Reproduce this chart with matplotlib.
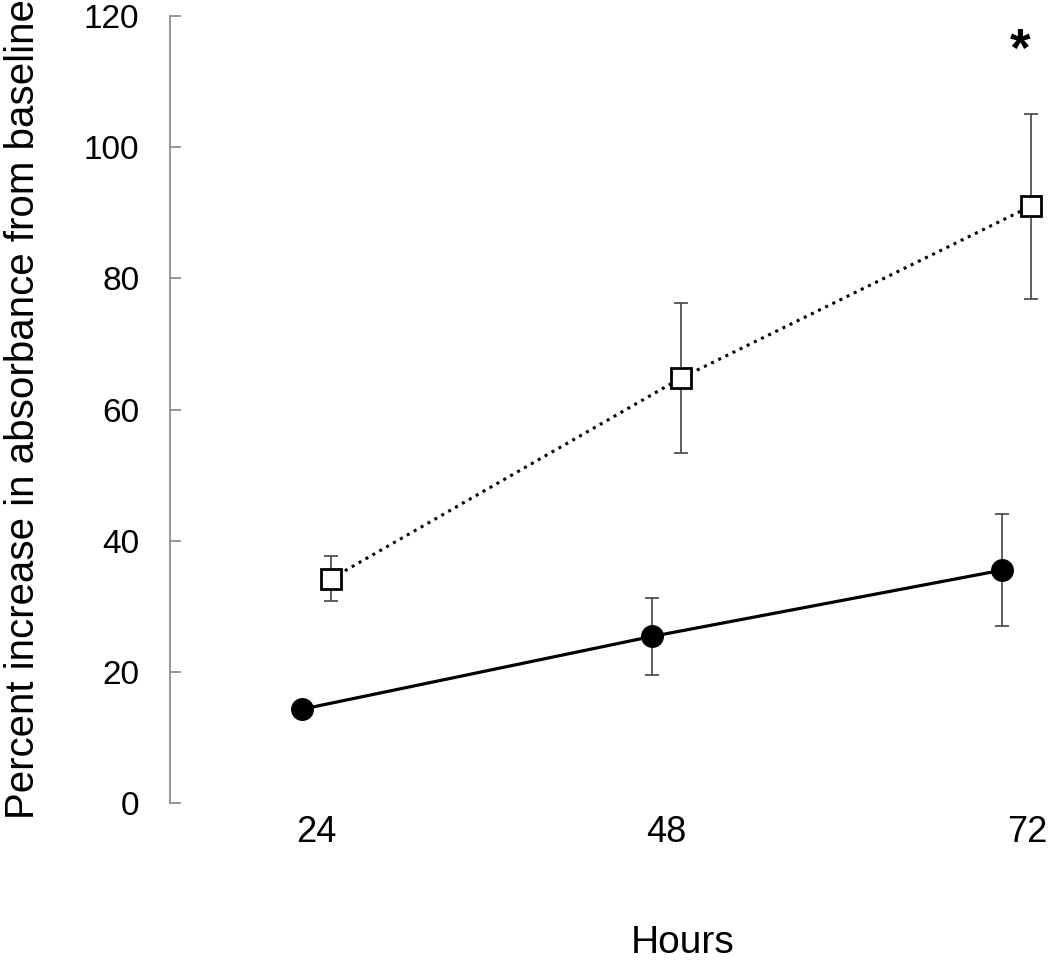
import matplotlib.pyplot as plt
from matplotlib.transforms import ScaledTranslation

plt.rcParams['font.family'] = ['Liberation Sans', 'DejaVu Sans']

hours = ['24', '48', '72']
filled_mean = [14.3, 25.4, 35.5]
filled_err = [1.0, 5.9, 8.5]
open_mean = [34.2, 64.8, 91.0]
open_err = [3.4, 11.5, 14.1]
star_value = 114.5

x = [0, 1, 2]
off = 0.0414
x_filled = [v - off for v in x]
x_open = [v + off for v in x]

fig = plt.figure(figsize=(10.5, 9.6), dpi=100)
ax = fig.add_axes([170 / 1050, 1 - 803 / 960, 1 - 170 / 1050, (803 - 16) / 960])

ecol = '#444444'
# error bars first, markers on top
ax.errorbar(x_filled, filled_mean, yerr=filled_err, fmt='none', ecolor=ecol,
            elinewidth=1.2, capsize=5, capthick=1.2, zorder=2)
ax.errorbar(x_open, open_mean, yerr=open_err, fmt='none', ecolor=ecol,
            elinewidth=1.2, capsize=5, capthick=1.2, zorder=2)

ax.plot(x_filled, filled_mean, color='black', lw=2.3, marker='o', ms=15.5,
        mfc='black', mec='black', zorder=3)
ax.plot(x_open, open_mean, color='black', lw=2.2, ls=(0, (1, 1.6)), marker='s',
        ms=14, mfc='white', mec='black', mew=2, zorder=3)

ax.text(2.01, star_value, '*', ha='center', va='center', fontsize=38,
        fontweight='bold')

ax.set_xlim(-0.419, 2.096)
ax.set_ylim(0, 120)
ax.set_yticks(range(0, 121, 20))
ax.set_xticks(x)
ax.set_xticklabels(hours)

for s in ['top', 'right', 'bottom']:
    ax.spines[s].set_visible(False)
ax.spines['left'].set_color('#8c8c8c')
ax.spines['left'].set_linewidth(1.3)

ax.tick_params(axis='y', direction='in', length=8, width=1.3, color='#8c8c8c',
               labelsize=24, pad=22)
ax.tick_params(axis='x', length=0, labelsize=26, pad=9)

# last label sits a little further right in the original
lbl = ax.get_xticklabels()[-1]
lbl.set_transform(lbl.get_transform() + ScaledTranslation(0.11, 0, fig.dpi_scale_trans))

ax.set_xlabel('Hours', fontsize=28, va='center')
ax.xaxis.set_label_coords((683 - 170) / 880, -140 / 787)
ax.set_ylabel('Percent increase in absorbance from baseline', fontsize=29, labelpad=30)

fig.savefig('out.png', dpi=100)
